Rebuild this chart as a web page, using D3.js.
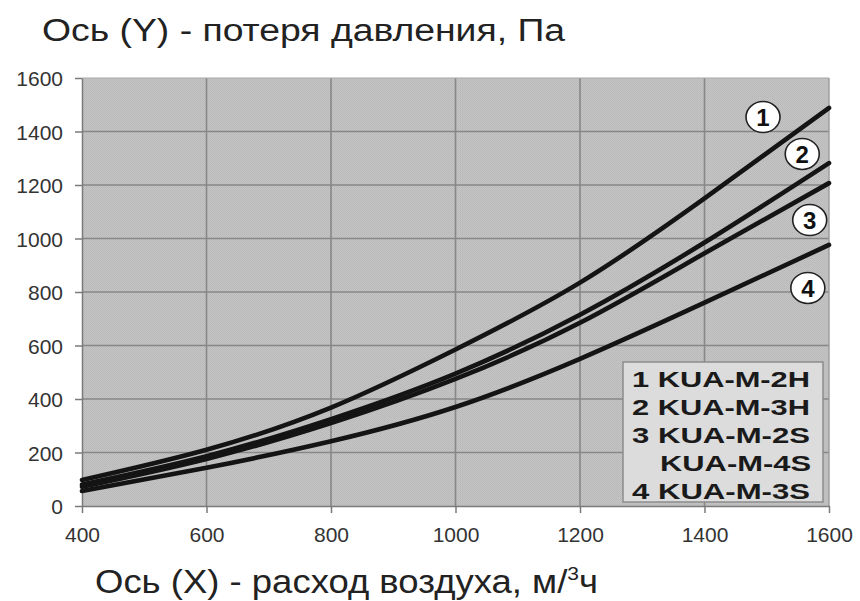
<!DOCTYPE html>
<html><head><meta charset="utf-8">
<script src="https://cdn.jsdelivr.net/npm/d3@7"></script>
<style>
html,body{margin:0;padding:0;background:#fff;}
svg{display:block;font-family:Arial,"Liberation Sans",sans-serif;}
</style></head>
<body>
<svg id="chart" width="860" height="601"></svg>
<script>
// ---- data ----
const flow = [400, 600, 800, 1000, 1200, 1400, 1600];          // м³/ч
const curve1 = [97, 210, 368, 585, 835, 1150, 1488];            // Па
const curve2 = [80, 186, 325, 495, 715, 985, 1282];
const curve3 = [72, 176, 310, 475, 685, 945, 1207];
const curve4 = [56, 143, 242, 370, 550, 760, 976];
const curveIds = ["1", "2", "3", "4"];
const labelFlow = [1494, 1557, 1569, 1566];
const labelLoss = [1454, 1316, 1069, 815];
const xTicks = [400, 600, 800, 1000, 1200, 1400, 1600];
const yTicks = [0, 200, 400, 600, 800, 1000, 1200, 1400, 1600];
const legendRows = ["1 KUA-M-2H", "2 KUA-M-3H", "3 KUA-M-2S", "KUA-M-4S", "4 KUA-M-3S"];
const yTitle = "Ось (Y) - потеря давления, Па";

const svg = d3.select("#chart");
const L = 82, R = 829, T = 78, B = 506;
const x = d3.scaleLinear().domain([400, 1600]).range([L, R]);
const y = d3.scaleLinear().domain([0, 1600]).range([B, T]);

// dither pattern background
const defs = svg.append("defs");
const pat = defs.append("pattern").attr("id", "dith").attr("width", 2).attr("height", 2)
  .attr("patternUnits", "userSpaceOnUse");
pat.append("rect").attr("width", 2).attr("height", 2).attr("fill", "#c4c4c4");
pat.append("rect").attr("width", 1).attr("height", 1).attr("fill", "#b8b8b8");
pat.append("rect").attr("x", 1).attr("y", 1).attr("width", 1).attr("height", 1).attr("fill", "#bcbcbc");

svg.append("rect").attr("x", L).attr("y", T).attr("width", R - L).attr("height", B - T)
  .attr("fill", "url(#dith)");

// grid
svg.append("g").selectAll("line").data(yTicks.slice(1, -1)).join("line")
  .attr("x1", L).attr("x2", R).attr("y1", d => y(d)).attr("y2", d => y(d))
  .attr("stroke", "#878787").attr("stroke-width", 1.6);
svg.append("g").selectAll("line").data(xTicks.slice(1, -1)).join("line")
  .attr("y1", T).attr("y2", B).attr("x1", d => x(d)).attr("x2", d => x(d))
  .attr("stroke", "#878787").attr("stroke-width", 1.6);

// border
svg.append("line").attr("x1", L).attr("x2", R).attr("y1", T).attr("y2", T).attr("stroke", "#a8a8a8").attr("stroke-width", 1.2);
svg.append("line").attr("x1", R).attr("x2", R).attr("y1", T).attr("y2", B).attr("stroke", "#9a9a9a").attr("stroke-width", 1.4);

// axes
const fmt = d3.format("d");
const xAxis = svg.append("g").attr("transform", `translate(0,${B})`)
  .call(d3.axisBottom(x).tickValues(xTicks).tickFormat(fmt).tickSize(7).tickSizeOuter(0).tickPadding(14));
const yAxis = svg.append("g").attr("transform", `translate(${L},0)`)
  .call(d3.axisLeft(y).tickValues(yTicks).tickFormat(fmt).tickSize(7).tickSizeOuter(0).tickPadding(12));
[xAxis, yAxis].forEach(g => {
  g.select(".domain").attr("stroke", "#7a7a7a").attr("stroke-width", 1.5);
  g.selectAll(".tick line").attr("stroke", "#7a7a7a").attr("stroke-width", 1.5);
  g.selectAll(".tick text").attr("font-size", 21).attr("fill", "#333")
    .attr("font-family", "Arial, 'Liberation Sans', sans-serif");
});
yAxis.selectAll(".tick text").attr("dy", "0.36em");

// curves
const series = [curve1, curve2, curve3, curve4];
const line = d3.line().x((d, i) => x(flow[i])).y(d => y(d)).curve(d3.curveNatural);
svg.append("g").selectAll("path").data(series).join("path")
  .attr("d", d => line(d)).attr("fill", "none").attr("stroke", "#141414")
  .attr("stroke-width", 4.6).attr("stroke-linecap", "round").attr("stroke-linejoin", "round");

// legend box
const lg = svg.append("g");
lg.append("rect").attr("x", 623).attr("y", 362).attr("width", 200).attr("height", 140)
  .attr("fill", "#dcdcdc").attr("stroke", "#8c8c8c").attr("stroke-width", 1.5);
lg.selectAll("text").data(legendRows).join("text")
  .attr("x", (d, i) => i === 3 ? 660 : 632)
  .attr("y", (d, i) => 387 + i * 28)
  .attr("font-size", 22).attr("font-weight", "bold").attr("fill", "#1a1a1a")
  .attr("textLength", (d, i) => i === 3 ? 151 : 178)
  .attr("lengthAdjust", "spacingAndGlyphs")
  .text(d => d);

// numbered circle labels
const lab = svg.append("g").selectAll("g").data(curveIds).join("g")
  .attr("transform", (d, i) => `translate(${x(labelFlow[i])},${y(labelLoss[i])})`);
lab.append("ellipse").attr("rx", 17).attr("ry", 15.5).attr("fill", "#fff")
  .attr("stroke", "#222").attr("stroke-width", 1.6);
lab.append("text").attr("text-anchor", "middle").attr("dy", "0.36em")
  .attr("font-size", 24).attr("font-weight", "bold").attr("fill", "#111").text(d => d);

// titles
svg.append("text").attr("x", 42).attr("y", 41).attr("font-size", 31).attr("fill", "#222")
  .attr("textLength", 523).attr("lengthAdjust", "spacingAndGlyphs").text(yTitle);

const xt = svg.append("text").attr("x", 95).attr("y", 593).attr("font-size", 33).attr("fill", "#222")
  .attr("textLength", 503).attr("lengthAdjust", "spacingAndGlyphs");
xt.append("tspan").text("Ось (X) - расход воздуха, м/");
xt.append("tspan").attr("font-size", 19).attr("dy", -13).text("3");
xt.append("tspan").attr("dy", 13).text("ч");
</script>
</body></html>
